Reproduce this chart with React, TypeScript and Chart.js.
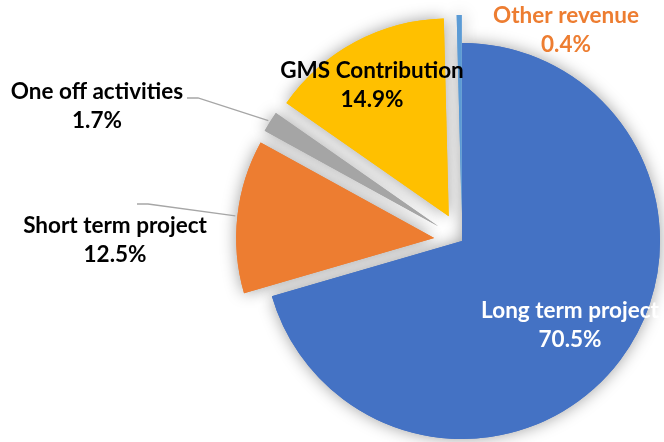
import React, { useEffect, useRef } from 'react';
import { Chart, registerables } from 'chart.js';

Chart.register(...registerables);

// ---- data ----
const categories = ['Long term project', 'Short term project', 'One off activities', 'GMS Contribution', 'Other revenue'];
const shares = [70.5, 12.5, 1.7, 14.9, 0.4];
const colors = ['#4472C4', '#ED7D31', '#A5A5A5', '#FFC000', '#5B9BD5'];
const explode = [0, 28, 28, 28, 28];

// ---- label layout (offsets from pie centre, in px) ----
const labelLayout: { dx: number; dy: number; color: string; leader?: number[][] }[] = [
  { dx: 108, dy: 77, color: '#FFFFFF' },
  { dx: -347, dy: -8, color: '#000000', leader: [[-325, -37], [-314, -37]] },
  { dx: -365, dy: -142, color: '#000000', leader: [[-275, -143], [-264, -143]] },
  { dx: -90, dy: -163, color: '#000000' },
  { dx: 104, dy: -218, color: '#ED7D31' },
];

const LINE_GAP = 29;
const FONT = 'bold 22.5px Lato';

const explodePlugin = {
  id: 'explodeShadow',
  beforeDatasetDraw(chart: any, args: any) {
    const { ctx } = chart;
    const arcs = args.meta.data;
    for (const pass of [0, 1]) {
      arcs.forEach((arc: any, i: number) => {
        const { startAngle, endAngle } = arc.getProps(['startAngle', 'endAngle'], true);
        const mid = (startAngle + endAngle) / 2;
        const off = explode[i] || 0;
        ctx.save();
        if (pass === 0) {
          ctx.shadowColor = 'rgba(0,0,0,0.38)';
          ctx.shadowBlur = 16;
        }
        ctx.translate(Math.cos(mid) * off, Math.sin(mid) * off);
        arc.draw(ctx);
        ctx.restore();
      });
    }
    return false;
  },
};

const labelPlugin = {
  id: 'sliceLabels',
  afterDraw(chart: any) {
    const meta = chart.getDatasetMeta(0);
    const ctx = chart.ctx;
    const arc0 = meta.data[0];
    const cx = arc0.x;
    const cy = arc0.y;
    ctx.save();
    ctx.font = FONT;
    ctx.textAlign = 'center';
    ctx.textBaseline = 'alphabetic';
    labelLayout.forEach((L, i) => {
      const arc = meta.data[i];
      if (L.leader) {
        const { startAngle, endAngle, outerRadius } = arc.getProps(['startAngle', 'endAngle', 'outerRadius'], true);
        const mid = (startAngle + endAngle) / 2;
        const r = outerRadius + explode[i] + 2;
        ctx.strokeStyle = '#A6A6A6';
        ctx.lineWidth = 1.3;
        ctx.beginPath();
        ctx.moveTo(cx + L.leader[0][0], cy + L.leader[0][1]);
        for (let k = 1; k < L.leader.length; k++) ctx.lineTo(cx + L.leader[k][0], cy + L.leader[k][1]);
        ctx.lineTo(cx + Math.cos(mid) * r, cy + Math.sin(mid) * r);
        ctx.stroke();
      }
      ctx.fillStyle = L.color;
      ctx.fillText(categories[i], cx + L.dx, cy + L.dy);
      ctx.fillText(shares[i].toFixed(1) + '%', cx + L.dx, cy + L.dy + LINE_GAP);
    });
    ctx.restore();
  },
};

export default function App() {
  const ref = useRef<HTMLCanvasElement | null>(null);
  useEffect(() => {
    if (!ref.current) return;
    const chart = new Chart(ref.current, {
      type: 'pie',
      data: {
        labels: categories,
        datasets: [
          {
            data: shares,
            backgroundColor: colors,
            borderWidth: 0,
            clip: false as any,
          },
        ],
      },
      options: {
        animation: false,
        responsive: false,
        devicePixelRatio: 1,
        radius: 198,
        layout: { padding: { left: 260, right: 0, top: 40, bottom: 0 } },
        plugins: {
          legend: { display: false },
          tooltip: { enabled: false },
        },
        events: [],
      } as any,
      plugins: [explodePlugin, labelPlugin],
    });
    return () => chart.destroy();
  }, []);
  return (
    <div style={{ position: 'fixed', left: 0, top: 0, width: 664, height: 442, background: '#fff' }}>
      <canvas ref={ref} width={664} height={442} style={{ width: 664, height: 442, display: 'block' }} />
    </div>
  );
}
